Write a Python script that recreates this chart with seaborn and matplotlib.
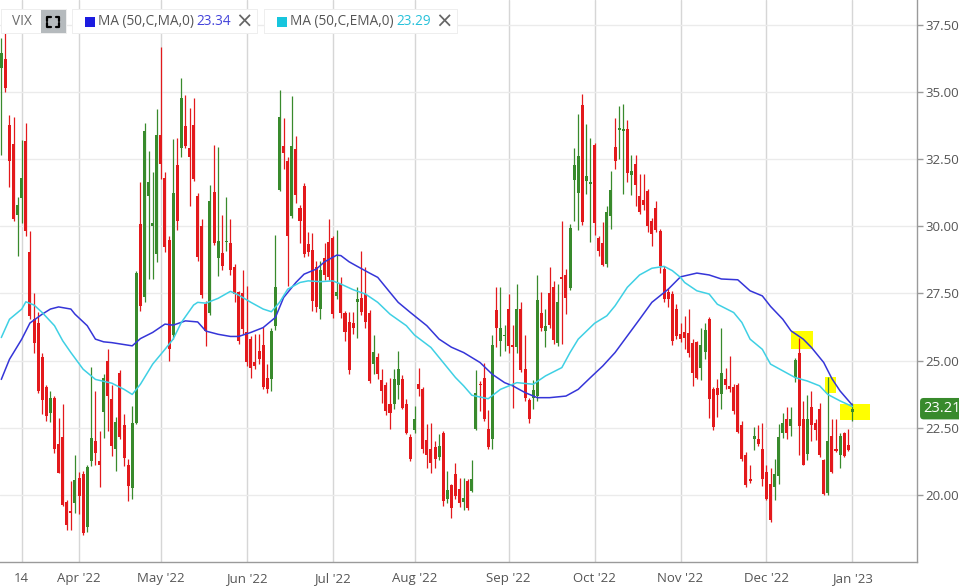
import matplotlib
matplotlib.use("Agg")
import matplotlib.pyplot as plt
from matplotlib.patches import Rectangle
import numpy as np
import pandas as pd
import seaborn as sns

# daily VIX candles, 2022-03-07 .. 2023-01-03 (trading days)
opens = [
    35.90, 36.25, 33.78, 33.07, 30.43, 31.05, 33.17, 29.03, 26.54, 26.40,
    25.15, 24.03, 23.06, 23.62, 21.88, 22.17, 19.73, 19.40, 19.70, 20.64,
    20.76, 18.80, 21.26, 22.00, 21.26, 23.09, 24.99, 23.56, 21.69, 24.53,
    22.59, 21.13, 20.26, 22.69, 30.09, 27.38, 31.12, 30.03, 28.97, 33.41,
    31.79, 29.50, 25.95, 32.27, 32.93, 33.72, 32.93, 33.78, 31.12, 30.03,
    27.10, 26.77, 31.27, 28.81, 28.99, 29.40, 29.38, 28.47, 27.54, 27.51,
    26.07, 25.80, 24.95, 25.36, 25.57, 24.37, 24.30, 26.30, 31.37, 33.01,
    32.45, 30.38, 32.89, 30.67, 31.52, 29.34, 29.13, 28.47, 26.92, 28.81,
    29.43, 29.55, 27.39, 27.87, 26.77, 26.42, 26.40, 27.17, 27.35, 27.48,
    26.77, 24.87, 25.15, 24.28, 24.08, 23.37, 23.37, 24.08, 24.33, 23.37,
    22.17, 22.41, 24.12, 23.93, 22.04, 21.72, 21.79, 21.42, 22.29, 19.83,
    20.35, 20.76, 20.22, 19.73, 20.51, 20.14, 22.44, 24.12, 24.37, 22.44,
    22.09, 26.89, 25.74, 25.90, 26.92, 25.57, 25.49, 26.94, 24.70, 23.53,
    23.62, 23.68, 26.77, 26.10, 27.51, 27.73, 25.67, 28.10, 28.19, 27.69,
    31.74, 31.25, 34.53, 31.68, 31.58, 33.04, 29.56, 29.38, 28.60, 30.40,
    32.95, 33.57, 33.55, 33.63, 31.90, 32.33, 31.12, 30.98, 31.33, 30.21,
    30.67, 29.82, 28.41, 27.54, 27.48, 26.94, 25.98, 26.05, 26.02, 25.67,
    25.70, 24.74, 25.32, 26.54, 23.93, 23.99, 23.74, 24.30, 24.06, 24.03,
    24.08, 22.62, 21.50, 20.60, 22.09, 22.09, 21.72, 20.85, 20.42, 20.30,
    20.70, 22.29, 22.84, 22.56, 24.37, 25.27, 22.84, 21.54, 23.28, 22.66,
    23.19, 21.29, 20.07, 22.19, 21.66, 21.50, 22.29, 21.84, 23.08,
]
highs = [
    37.00, 37.60, 34.13, 34.07, 31.10, 33.20, 33.86, 29.82, 27.50, 26.80,
    25.30, 24.10, 23.87, 23.70, 22.87, 23.37, 19.80, 20.50, 21.50, 20.85,
    20.88, 21.10, 24.78, 23.87, 22.38, 24.50, 25.42, 24.10, 22.90, 24.65,
    23.00, 21.34, 23.31, 28.32, 31.64, 33.86, 32.80, 32.02, 34.38, 36.68,
    32.02, 29.63, 33.26, 33.29, 35.54, 34.90, 34.41, 34.78, 31.25, 30.28,
    27.23, 31.55, 33.04, 32.97, 30.43, 31.10, 30.27, 28.60, 27.60, 28.38,
    27.79, 25.90, 25.98, 25.98, 26.27, 24.86, 26.20, 29.68, 35.09, 34.03,
    32.60, 34.85, 33.36, 30.80, 31.62, 29.78, 29.75, 28.72, 28.72, 29.38,
    30.27, 29.65, 29.85, 28.10, 26.85, 26.80, 26.80, 27.76, 29.10, 28.47,
    26.90, 25.95, 25.30, 24.68, 24.20, 24.37, 24.70, 25.36, 24.45, 23.56,
    22.25, 23.31, 24.74, 24.00, 22.63, 22.69, 22.00, 22.25, 22.38, 20.88,
    20.40, 21.17, 20.63, 20.63, 20.60, 21.29, 24.65, 24.24, 24.90, 23.16,
    25.95, 27.73, 27.76, 26.32, 27.48, 26.32, 27.85, 27.17, 25.95, 23.60,
    24.28, 28.19, 27.56, 26.94, 28.47, 27.97, 27.85, 30.21, 28.41, 30.10,
    32.91, 34.19, 34.94, 33.82, 33.29, 33.11, 29.65, 30.15, 30.75, 32.05,
    34.03, 34.48, 34.57, 33.95, 32.64, 32.64, 31.96, 31.96, 31.40, 30.30,
    30.96, 29.90, 28.53, 27.69, 27.60, 27.10, 26.39, 26.67, 26.92, 25.80,
    25.74, 26.20, 26.39, 26.61, 24.00, 24.33, 26.23, 24.74, 25.17, 24.12,
    24.16, 22.75, 21.60, 21.13, 22.54, 22.59, 22.66, 21.10, 21.00, 21.32,
    22.63, 23.06, 23.28, 23.28, 25.08, 25.86, 23.50, 23.71, 23.87, 22.84,
    23.41, 21.34, 24.40, 22.84, 22.81, 22.31, 22.34, 22.44, 23.41,
]
lows = [
    32.64, 35.00, 31.46, 30.20, 28.90, 30.13, 29.63, 26.54, 25.30, 23.80,
    23.00, 22.75, 22.70, 21.57, 20.80, 19.58, 18.70, 18.70, 19.33, 19.27,
    18.50, 18.60, 21.07, 21.13, 20.30, 22.13, 22.38, 21.44, 20.88, 22.07,
    21.07, 19.76, 19.83, 22.63, 26.86, 27.20, 28.04, 28.04, 28.66, 31.77,
    29.03, 24.99, 25.80, 29.88, 32.60, 32.90, 30.75, 31.70, 28.70, 27.35,
    25.55, 26.70, 29.30, 28.14, 28.38, 29.10, 28.19, 27.17, 25.61, 26.00,
    24.80, 24.37, 24.70, 24.86, 23.93, 23.81, 23.87, 26.15, 31.30, 32.12,
    27.79, 30.30, 30.87, 29.38, 28.85, 28.90, 26.86, 26.80, 26.54, 28.00,
    28.00, 26.60, 27.30, 26.60, 25.74, 24.49, 26.00, 25.86, 26.70, 26.20,
    24.18, 24.49, 24.30, 23.43, 22.96, 22.46, 23.21, 23.58, 23.19, 22.25,
    21.26, 22.31, 23.70, 21.57, 21.00, 20.82, 21.00, 21.30, 19.60, 19.70,
    19.14, 19.83, 19.55, 19.43, 19.45, 20.10, 22.41, 23.12, 22.75, 21.70,
    21.69, 25.49, 25.17, 25.36, 25.30, 23.25, 25.30, 24.58, 23.50, 22.69,
    23.21, 23.50, 26.10, 25.49, 26.20, 25.61, 25.55, 25.61, 26.73, 27.64,
    30.20, 29.88, 30.05, 31.21, 29.43, 29.68, 28.90, 28.53, 28.50, 29.90,
    32.12, 32.49, 31.21, 31.67, 31.17, 30.75, 30.46, 30.60, 29.80, 29.28,
    29.80, 28.28, 27.20, 26.98, 25.60, 25.80, 25.70, 25.42, 25.15, 24.06,
    24.30, 24.28, 25.07, 22.87, 22.41, 22.91, 23.21, 23.93, 23.83, 23.00,
    22.30, 21.25, 20.30, 20.45, 21.67, 21.82, 20.32, 19.80, 18.98, 19.80,
    20.39, 22.13, 22.09, 22.21, 24.20, 21.47, 21.10, 21.29, 21.99, 22.04,
    21.42, 19.98, 20.01, 20.80, 21.60, 21.01, 21.42, 21.63, 22.75,
]
closes = [
    36.45, 35.15, 32.45, 30.28, 30.80, 31.80, 29.84, 26.67, 25.67, 23.87,
    23.53, 22.94, 23.60, 21.69, 20.82, 19.64, 18.89, 19.33, 20.57, 19.95,
    18.58, 21.05, 22.10, 21.57, 21.13, 24.37, 23.68, 21.82, 22.72, 22.17,
    21.38, 20.32, 22.69, 28.26, 27.04, 33.55, 31.64, 30.13, 33.42, 32.33,
    29.22, 25.42, 31.25, 30.21, 34.79, 33.01, 32.58, 31.77, 28.85, 27.44,
    26.11, 30.96, 29.38, 29.44, 28.51, 29.45, 28.38, 27.48, 25.74, 26.17,
    24.93, 24.74, 24.80, 25.05, 24.00, 23.93, 26.11, 27.76, 34.07, 32.73,
    29.63, 32.99, 31.17, 30.21, 28.97, 29.06, 27.23, 26.98, 28.38, 28.19,
    28.10, 26.73, 27.56, 26.77, 26.07, 24.65, 26.20, 27.31, 26.82, 26.42,
    24.24, 25.32, 24.49, 23.87, 23.12, 23.06, 24.33, 24.70, 23.25, 22.31,
    21.32, 22.84, 23.93, 21.72, 21.47, 21.20, 21.32, 21.82, 19.76, 20.20,
    19.52, 19.95, 19.70, 19.89, 19.52, 20.60, 23.81, 24.08, 22.81, 21.79,
    25.57, 26.23, 26.23, 25.95, 25.55, 25.50, 26.94, 24.65, 23.62, 22.81,
    23.91, 27.27, 26.20, 26.30, 26.32, 25.77, 27.17, 28.04, 27.35, 29.93,
    32.29, 32.62, 30.18, 31.87, 31.65, 30.13, 29.10, 28.56, 30.55, 31.37,
    32.45, 33.66, 33.60, 31.99, 32.05, 31.55, 30.52, 30.80, 30.00, 29.72,
    29.88, 28.53, 27.31, 27.31, 25.74, 25.90, 25.82, 25.86, 25.30, 24.55,
    24.37, 25.57, 26.13, 23.56, 22.54, 23.71, 24.55, 24.08, 23.96, 23.12,
    22.34, 21.32, 20.38, 20.51, 22.21, 21.88, 20.60, 19.85, 19.06, 20.76,
    22.17, 22.69, 22.31, 22.84, 25.03, 22.56, 21.13, 22.84, 22.59, 22.41,
    21.47, 20.05, 22.00, 20.85, 21.63, 22.19, 21.44, 21.67, 23.21,
]

# moving averages (trading-day index, value)
sma_idx = [0, 2, 5, 7, 10, 12, 14, 17, 18, 21, 23, 25, 27, 32, 34, 37, 40, 42,
           45, 48, 50, 53, 56, 58, 61, 64, 67, 69, 72, 74, 77, 79, 82, 83, 85,
           87, 90, 92, 95, 97, 100, 104, 107, 110, 113, 117, 120, 123, 125,
           128, 131, 134, 138, 141, 144, 147, 150, 153, 156, 159, 163, 166,
           170, 173, 176, 180, 183, 186, 188, 191, 193, 196, 198, 201, 203,
           205, 208]
sma_vals = [24.30, 25.05, 25.80, 26.40, 26.73, 26.92, 27.00, 26.92, 26.73,
            26.30, 25.80, 25.70, 25.67, 25.55, 25.82, 26.05, 26.36, 26.32,
            26.48, 26.44, 26.10, 25.98, 25.90, 25.90, 26.05, 26.23, 26.61,
            27.35, 27.91, 28.22, 28.41, 28.68, 28.93, 28.91, 28.68, 28.51,
            28.26, 28.10, 27.54, 27.17, 26.79, 26.30, 25.80, 25.50, 25.30,
            24.93, 24.49, 24.18, 24.06, 23.81, 23.62, 23.62, 23.68, 23.93,
            24.37, 24.80, 25.30, 25.92, 26.54, 27.17, 27.66, 28.12, 28.26,
            28.19, 28.04, 28.01, 27.60, 27.41, 27.02, 26.54, 26.11, 25.80,
            25.49, 24.93, 24.33, 23.87, 23.34]
ema_idx = [0, 2, 5, 6, 8, 10, 13, 15, 17, 20, 23, 27, 30, 32, 34, 37, 40, 42,
           44, 47, 48, 50, 53, 56, 58, 61, 64, 66, 68, 70, 73, 75, 78, 81, 83,
           86, 89, 92, 95, 99, 101, 105, 108, 111, 113, 115, 119, 122, 126,
           130, 133, 137, 139, 141, 145, 148, 150, 153, 156, 159, 162, 164,
           166, 167, 170, 173, 175, 179, 181, 183, 186, 188, 191, 194, 197,
           200, 202, 205, 208]
ema_vals = [25.86, 26.54, 26.92, 27.19, 27.07, 26.79, 26.30, 25.74, 25.30,
            24.68, 24.30, 24.16, 23.93, 23.74, 24.12, 24.87, 25.42, 25.80,
            26.42, 27.07, 27.17, 27.14, 27.32, 27.58, 27.44, 27.17, 26.92,
            26.82, 27.17, 27.66, 27.91, 27.97, 27.94, 27.97, 27.85, 27.64,
            27.48, 27.17, 26.73, 26.30, 25.95, 25.49, 24.93, 24.37, 24.06,
            23.71, 23.58, 23.93, 24.18, 24.12, 24.43, 24.74, 25.30, 25.80,
            26.39, 26.67, 27.04, 27.73, 28.19, 28.44, 28.51, 28.35, 28.10,
            27.91, 27.60, 27.48, 27.10, 26.79, 26.42, 25.80, 25.42, 24.87,
            24.62, 24.37, 24.24, 24.06, 23.74, 23.50, 23.29]

# yellow highlighter marks drawn on the chart
hl_start = [193.1, 201.2, 205.1]
hl_end = [198.5, 204.1, 212.4]
hl_low = [25.45, 23.81, 22.80]
hl_high = [26.12, 24.40, 23.40]

holidays = ["2022-04-15", "2022-05-30", "2022-06-20", "2022-07-04",
            "2022-09-05", "2022-11-24", "2022-12-26", "2023-01-02"]

GREEN = "#388a2c"
RED = "#e3191c"
BLUE = "#3535d8"
CYAN = "#3fd0e4"
TXT = "#555555"

sns.set_theme(style="white")
plt.rcParams["font.family"] = ["Open Sans", "DejaVu Sans"]

days = pd.bdate_range("2022-03-07", "2023-01-03")
days = days[~days.isin(pd.to_datetime(holidays))]
n = len(closes)
assert len(days) == n

df = pd.DataFrame({"date": days, "open": opens, "high": highs,
                   "low": lows, "close": closes})
df["x"] = np.arange(n)
up = df["close"] >= df["open"]
colors = np.where(up, GREEN, RED)

fig = plt.figure(figsize=(9.59, 5.86), dpi=100)
ax = fig.add_axes([0, 24 / 586, 917 / 959, 562 / 586])

for s, e, lo, hi in zip(hl_start, hl_end, hl_low, hl_high):
    ax.add_patch(Rectangle((s, lo), e - s, hi - lo, color="#ffff00", lw=0, zorder=1))

ax.vlines(df["x"], df["low"], df["high"], colors=colors, lw=0.9, zorder=2)
body = (df["close"] - df["open"]).abs().clip(lower=0.06)
ax.bar(df["x"], body, bottom=df[["open", "close"]].min(axis=1), width=0.74,
       color=colors, linewidth=0, zorder=3)

sma = pd.DataFrame({"x": sma_idx, "v": sma_vals})
ema = pd.DataFrame({"x": ema_idx, "v": ema_vals})
sns.lineplot(data=sma, x="x", y="v", color=BLUE, lw=1.1, ax=ax, zorder=4)
sns.lineplot(data=ema, x="x", y="v", color=CYAN, lw=1.1, ax=ax, zorder=4)

# x ticks: Mar 14 and first trading day of each month
month_start = df.index[df["date"].dt.month != df["date"].dt.month.shift()].tolist()[1:]
tick_pos = [int(np.where(days == pd.Timestamp("2022-03-14"))[0][0])] + month_start
tick_lab = ["14"] + [f"{days[i]:%b} '{days[i]:%y}" for i in month_start]
ax.set_xticks(tick_pos)
ax.set_xticklabels(tick_lab)

yt = np.arange(20, 37.6, 2.5)
ax.yaxis.tick_right()
ax.set_yticks(yt)
ax.set_yticklabels([f"{v:.2f}" for v in yt])

ax.set_xlim(-0.32, 223.8)
ax.set_ylim(17.5, 38.43)
ax.set_xlabel("")
ax.set_ylabel("")

ax.grid(axis="x", color="#d6d6d6", lw=1.0, zorder=0)
ax.grid(axis="y", color="#ebebeb", lw=1.0, zorder=0)
ax.set_axisbelow(True)
for side in ["left", "top"]:
    ax.spines[side].set_visible(False)
for side in ["right", "bottom"]:
    ax.spines[side].set_color("#9a9a9a")
    ax.spines[side].set_linewidth(1.0)
ax.tick_params(axis="both", colors="#9a9a9a", labelcolor=TXT, labelsize=9.5,
               length=4, width=1, direction="out", pad=2)
ax.tick_params(axis="x", pad=3)

# last price flag
ax.annotate(f"{closes[-1]:.2f}", xy=(1, closes[-1]), xycoords=ax.get_yaxis_transform(),
            xytext=(4.5, 0), textcoords="offset points", ha="left", va="center",
            color="white", fontsize=10.5, annotation_clip=False,
            bbox=dict(boxstyle="round,pad=0.22,rounding_size=0.25", fc=GREEN, ec="none"))


# legend chips at the top, laid out in pixel units
def fx(px):
    return px / 959


def fy(py):
    return 1 - py / 586


def chip(x0, x1):
    fig.patches.append(Rectangle((fx(x0 - 1), fy(34)), fx(x1 - x0 + 2), 25 / 586,
                                 transform=fig.transFigure, fc="#eeeeee", ec="none", zorder=5))
    fig.patches.append(Rectangle((fx(x0), fy(33)), fx(x1 - x0), 23 / 586,
                                 transform=fig.transFigure, fc="white", ec="none", zorder=6))


ty = fy(21.5)
chip(2, 66)
fig.patches.append(Rectangle((fx(41), fy(33)), fx(25), 23 / 586, transform=fig.transFigure,
                             fc="#b5babd", ec="none", zorder=7))
fig.text(fx(12), ty, "VIX", color="#6a6a6a", fontsize=9.8, va="center", zorder=8)
for cx, cy, dx, dy in [(47, 17, 1, 1), (59, 17, -1, 1), (47, 26.5, 1, -1), (59, 26.5, -1, -1)]:
    fig.add_artist(plt.Line2D([fx(cx), fx(cx), fx(cx + 3.5 * dx)],
                              [fy(cy + 3.5 * dy), fy(cy), fy(cy)],
                              transform=fig.transFigure, color="black", lw=1.6, zorder=8))

legend_items = [(73, 257, "#1c1ce0", "MA (50,C,MA,0)", sma_vals[-1], "#4343da"),
                (265, 457, "#17c5dd", "MA (50,C,EMA,0)", ema_vals[-1], "#27c1da")]
for x0, x1, sq, label, val, vcol in legend_items:
    chip(x0, x1)
    fig.patches.append(Rectangle((fx(x0 + 12), fy(26.5)), fx(10), 9.5 / 586,
                                 transform=fig.transFigure, fc=sq, ec="none", zorder=8))
    fig.text(fx(x0 + 25), ty, label, color=TXT, fontsize=9.8, va="center", zorder=8)
    fig.text(fx(x1 - 61), ty, f"{val:.2f}", color=vcol, fontsize=9.8, va="center", zorder=8)
    fig.text(fx(x1 - 13), ty, "\u00d7", color="#666666", fontsize=15, ha="center",
             va="center", zorder=8, family="DejaVu Sans")

fig.savefig("out.png", dpi=100)
